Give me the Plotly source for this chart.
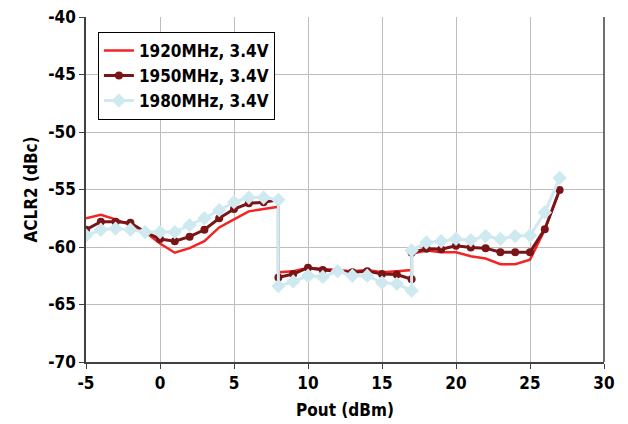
import plotly.graph_objects as go

# Pout (dBm) sample points; duplicated x marks the range switches at 8 and 17 dBm
pout = [-5, -4, -3, -2, -1, 0, 1, 2, 3, 4, 5, 6, 7, 8,
        8, 9, 10, 11, 12, 13, 14, 15, 16, 17,
        17, 18, 19, 20, 21, 22, 23, 24, 25, 26, 27]

aclr_1920 = [-57.5, -57.2, -57.6, -58.1, -58.7, -59.7, -60.5, -60.1, -59.5, -58.3, -57.6, -56.9, -56.7, -56.5,
             -62.2, -62.1, -61.8, -61.9, -62.0, -62.1, -62.0, -62.2, -62.1, -62.0,
             -60.6, -60.3, -60.45, -60.45, -60.8, -61.0, -61.5, -61.5, -61.1, -58.5, -55.05]

aclr_1950 = [-58.5, -57.8, -57.8, -57.9, -58.7, -59.3, -59.5, -59.1, -58.5, -57.5, -56.7, -56.2, -56.1, -55.9,
             -62.65, -62.35, -61.8, -62.0, -62.1, -62.2, -62.1, -62.35, -62.4, -62.8,
             -60.5, -60.15, -60.2, -59.9, -60.05, -60.1, -60.45, -60.45, -60.45, -58.45, -55.05]

aclr_1980 = [-59.0, -58.5, -58.4, -58.5, -58.7, -58.7, -58.7, -58.1, -57.5, -56.8, -56.1, -55.7, -55.7, -55.9,
             -63.4, -63.0, -62.5, -62.6, -62.1, -62.5, -62.5, -63.1, -63.2, -63.8,
             -60.3, -59.6, -59.5, -59.3, -59.4, -59.05, -59.3, -59.05, -59.0, -57.0, -54.0]

names = ["1920MHz, 3.4V", "1950MHz, 3.4V", "1980MHz, 3.4V"]
x_ticks = [-5, 0, 5, 10, 15, 20, 25, 30]
x_ticktext = ["-5", "0", "5", "10", "15", "20", "25", "30"]
y_ticks = [-70, -65, -60, -55, -50, -45, -40]
y_ticktext = ["-70", "-65", "-60", "-55", "-50", "-45", "-40"]

FONT = "Liberation Sans Narrow, DejaVu Sans Condensed, Arial Narrow, sans-serif"

fig = go.Figure()
fig.add_trace(go.Scatter(x=pout, y=aclr_1920, name=names[0], mode="lines",
                         line=dict(color="#F22424", width=2.5)))
fig.add_trace(go.Scatter(x=pout, y=aclr_1950, name=names[1], mode="lines+markers",
                         line=dict(color="#7A1517", width=3),
                         marker=dict(symbol="circle", size=8, color="#7A1517")))
fig.add_trace(go.Scatter(x=pout, y=aclr_1980, name=names[2], mode="lines+markers",
                         line=dict(color="#CFE9F1", width=3),
                         marker=dict(symbol="diamond", size=11, color="#CFE9F1")))

axis_common = dict(showgrid=True, gridcolor="#BDBDBD", gridwidth=1,
                   showline=True, linecolor="#404040", linewidth=1.5, mirror=False,
                   ticks="outside", ticklen=5, tickcolor="#404040",
                   tickfont=dict(family=FONT, size=17, color="black", weight="bold"),
                   zeroline=False, automargin=False)

fig.update_layout(
    width=628, height=424,
    margin=dict(l=86, r=24, t=17, b=62),
    paper_bgcolor="white", plot_bgcolor="white",
    font=dict(family=FONT, color="black"),
    xaxis=dict(range=[-5, 30], tickvals=x_ticks, ticktext=x_ticktext,
               title=dict(text="<b>Pout (dBm)</b>", font=dict(family=FONT, size=17), standoff=12),
               **axis_common),
    yaxis=dict(range=[-70, -40], tickvals=y_ticks, ticktext=y_ticktext,
               title=dict(text="<b>ACLR2 (dBc)</b>", font=dict(family=FONT, size=17), standoff=6),
               **axis_common),
    legend=dict(x=0.023, y=0.957, xanchor="left", yanchor="top",
                bgcolor="white", bordercolor="black", borderwidth=1,
                font=dict(family=FONT, size=17, color="black", weight="bold"),
                itemwidth=30, tracegroupgap=0),
    showlegend=True,
)
# right frame line
fig.add_shape(type="line", xref="paper", yref="paper", x0=1, x1=1, y0=0, y1=1,
              line=dict(color="#404040", width=1.5))

fig.write_html("out.html", config={"displayModeBar": False},
               post_script="document.body.style.margin='0';")
